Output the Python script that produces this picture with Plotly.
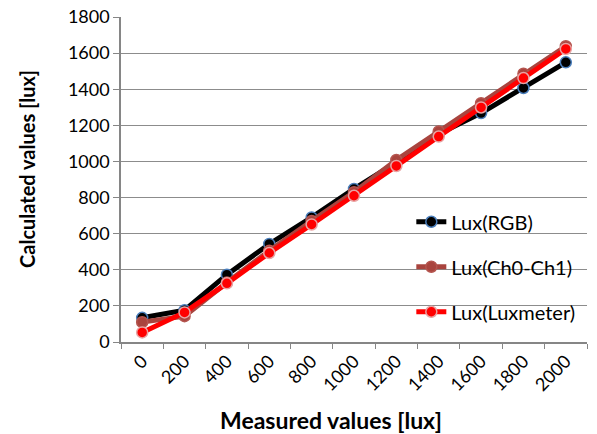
import plotly.graph_objects as go

categories = ["0", "200", "400", "600", "800", "1000", "1200", "1400", "1600", "1800", "2000"]
lux_rgb = [134, 176, 373, 543, 690, 848, 995, 1152, 1268, 1407, 1549]
lux_ch0_ch1 = [110, 143, 330, 505, 670, 830, 1008, 1166, 1323, 1486, 1638]
lux_luxmeter = [53, 164, 325, 493, 651, 810, 975, 1138, 1299, 1462, 1623]

x_title = "Measured values [lux]"
y_title = "Calculated values [lux]"

series = [
    ("Lux(RGB)", lux_rgb, "#000000", "#000000", "#4a7ebb"),
    ("Lux(Ch0-Ch1)", lux_ch0_ch1, "#a9443e", "#a9443e", "#b5554f"),
    ("Lux(Luxmeter)", lux_luxmeter, "#ff0000", "#ff0000", "#e8a3a3"),
]

fig = go.Figure()
for i, (name, vals, lc, mc, mlc) in enumerate(series):
    fig.add_trace(go.Scatter(
        x=categories, y=vals, name=name, mode="lines+markers",
        legendgroup=f"g{i}",
        line=dict(color=lc, width=5),
        marker=dict(size=11, color=mc, line=dict(color=mlc, width=1.5)),
    ))

font_family = "Lato, 'Liberation Sans', sans-serif"
fig.update_layout(
    width=597, height=434,
    margin=dict(l=121, r=10, t=17, b=92),
    paper_bgcolor="white", plot_bgcolor="white",
    font=dict(family=font_family, size=18, color="black"),
    showlegend=True,
    legend=dict(x=0.623, y=0.43, xanchor="left", yanchor="top",
                bgcolor="rgba(0,0,0,0)", tracegroupgap=16,
                font=dict(size=20)),
    xaxis=dict(
        type="category", range=[-0.5, 10.5], automargin=False,
        tickson="boundaries", ticks="outside", ticklen=5, tickcolor="#868686",
        showline=True, linecolor="#868686", linewidth=1.5,
        showgrid=False, tickangle=-45,
        tickfont=dict(size=18),
    ),
    yaxis=dict(
        range=[0, 1800], dtick=200, tick0=0, automargin=False,
        ticks="outside", ticklen=6, tickcolor="#868686",
        showline=True, linecolor="#868686", linewidth=1.5,
        showgrid=True, gridcolor="#8c8c8c", gridwidth=1.2,
        zeroline=False,
        tickfont=dict(size=18),
    ),
    annotations=[
        dict(text=f"<b>{x_title}</b>", xref="paper", yref="paper",
             x=0.4506, y=-0.24, xanchor="center", yanchor="middle",
             showarrow=False, font=dict(size=23)),
        dict(text=f"<b>{y_title}</b>", xref="paper", yref="paper",
             x=-0.202, y=0.532, xanchor="center", yanchor="middle",
             textangle=-90, showarrow=False, font=dict(size=20)),
    ],
)

fig.write_html("out.html", config={"displayModeBar": False},
               post_script="document.body.style.margin='0px';")
